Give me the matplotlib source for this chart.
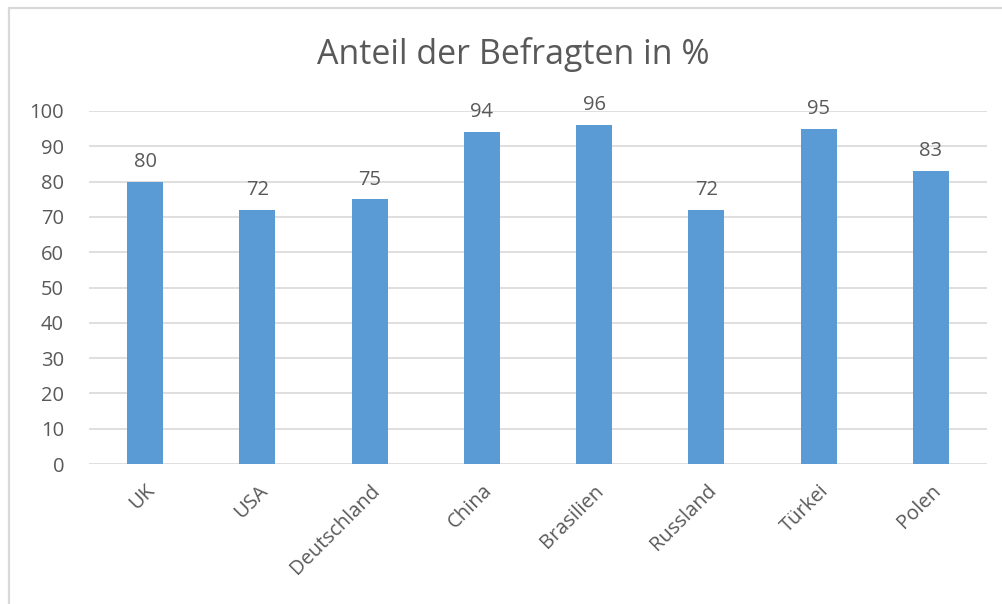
import matplotlib.pyplot as plt
from matplotlib.patches import Rectangle

plt.rcParams['font.family'] = ['Open Sans', 'DejaVu Sans']

# Daten
laender = ['UK', 'USA', 'Deutschland', 'China', 'Brasilien', 'Russland', 'Türkei', 'Polen']
anteil = [80, 72, 75, 94, 96, 72, 95, 83]
y_ticks = list(range(0, 101, 10))

text_grau = '#595959'
balken_blau = '#5B9BD5'
gitter_grau = '#D9D9D9'

fig = plt.figure(figsize=(10.02, 6.04), dpi=100)
ax = fig.add_axes([89 / 1002, 1 - 464 / 604, (987 - 89) / 1002, (464 - 111) / 604])

# Rahmen des Diagramms (rechts/unten ausserhalb des Bildes)
fig.patches.append(Rectangle((9 / 1002, -0.1), 1.2, 1 - 8 / 604 + 0.1,
                             transform=fig.transFigure, fill=False,
                             edgecolor=gitter_grau, linewidth=1.6))

x = list(range(len(laender)))
bars = ax.bar(x, anteil, width=0.32, color=balken_blau, zorder=3)
for xi, v in zip(x, anteil):
    ax.annotate(str(v), (xi, v), xytext=(0, 7), textcoords='offset points',
                ha='center', va='bottom', fontsize=14.5, color=text_grau)

ax.set_xlim(-0.5, len(laender) - 0.5)
ax.set_ylim(0, 100)
ax.set_yticks(y_ticks)
ax.set_xticks(x)
ax.set_xticklabels(laender, rotation=45, ha='right', rotation_mode='anchor')
ax.tick_params(axis='both', length=0, labelsize=14.5, labelcolor=text_grau)
ax.tick_params(axis='x', pad=12)
ax.tick_params(axis='y', pad=18)
ax.yaxis.grid(True, color=gitter_grau, linewidth=1.2, zorder=0)
for s in ax.spines.values():
    s.set_visible(False)

fig.text(513 / 1002, 1 - 55 / 604, 'Anteil der Befragten in %', ha='center', va='center',
         fontsize=24.5, color=text_grau)

fig.savefig('out.png', dpi=100, facecolor='white')
